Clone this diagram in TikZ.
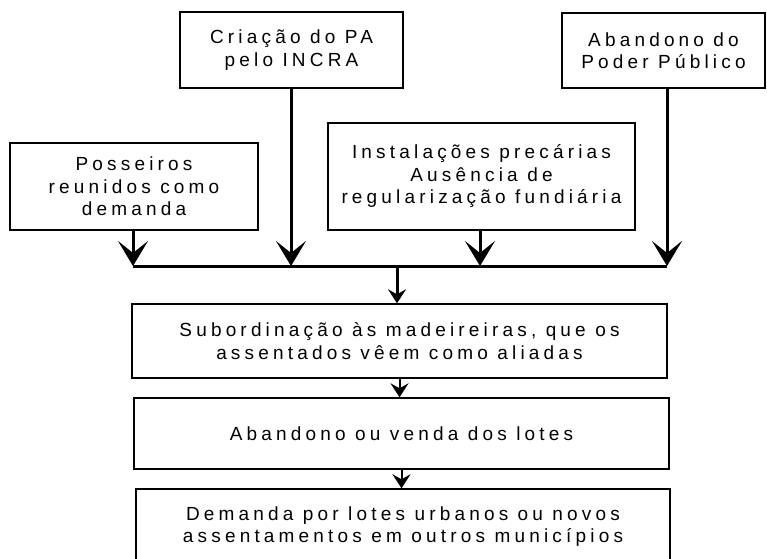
\documentclass[tikz,border=0pt]{standalone}
\usepackage{fontspec}
\usepackage{tikz}
\usetikzlibrary{arrows.meta}
\newfontfamily\rotulo[LetterSpace=22]{Liberation Sans}

\begin{document}
\begin{tikzpicture}[x=1pt, y=-1pt,
        caixa/.style={draw, line width=1.4pt, align=center, inner sep=0pt,
            font=\rotulo\fontsize{19}{22.5}\selectfont},
        grossa/.style={line width=3pt, -{Stealth[length=25pt, width=30pt, inset=12pt]}},
        fina/.style={line width=2pt, -{Stealth[length=14pt, width=18pt, inset=5pt]}}]
        \useasboundingbox (0,0) rectangle (767,558);

        \node[caixa, minimum width=223, minimum height=76] (criacao) at (291.5, 50) {Criação do PA\\pelo INCRA};
        \node[caixa, minimum width=203, minimum height=75] (poder) at (663.5, 50.5) {Abandono do\\Poder Público};
        \node[caixa, minimum width=248, minimum height=87] (posseiros) at (134, 186.5) {Posseiros\\reunidos como\\demanda};
        \node[caixa, minimum width=307, minimum height=107] (instalacoes) at (481.5, 176.5) {Instalações precárias\\Ausência de\\regularização fundiária};

        \node[caixa, minimum width=535, minimum height=74] (subordinacao) at (399.5, 341) {Subordinação às madeireiras, que os\\assentados vêem como aliadas};
        \node[caixa, minimum width=535, minimum height=71] (venda) at (401.5, 433.5) {Abandono ou venda dos lotes};
        \node[caixa, minimum width=534, minimum height=75] (demanda) at (403, 526.5) {Demanda por lotes urbanos ou novos\\assentamentos em outros municípios};

        \coordinate (b1) at (133, 266);
        \coordinate (b2) at (291, 266);
        \coordinate (b3) at (480, 266);
        \coordinate (b4) at (667, 266);
        \coordinate (juncao) at (397, 266);

        \draw[grossa] (posseiros.south -| b1) -- (b1);
        \draw[grossa] (criacao.south -| b2) -- (b2);
        \draw[grossa] (instalacoes.south -| b3) -- (b3);
        \draw[grossa] (poder.south -| b4) -- (b4);
        \draw[line width=3pt] (b1) -- (b4);

        \draw[fina, line width=3pt] (juncao) -- (juncao |- subordinacao.north);
        \draw[fina] (subordinacao.south) -- (venda.north -| subordinacao.south);
        \draw[fina] (venda.south) -- (demanda.north -| venda.south);
\end{tikzpicture}
\end{document}
